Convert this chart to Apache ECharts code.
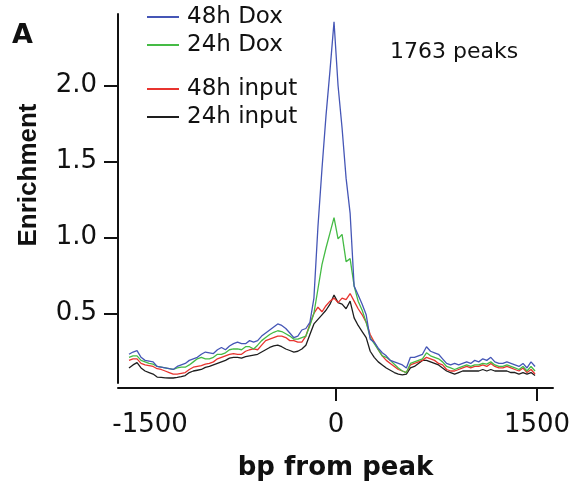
<!DOCTYPE html>
<html><head><meta charset="utf-8">
<script src="https://cdn.jsdelivr.net/npm/echarts@6/dist/echarts.min.js"></script>
<style>html,body{margin:0;padding:0;background:#fff}#c{width:581px;height:486px}</style>
</head><body><div id="c"></div>
<script>
// x positions (bp from peak)
const bpFromPeak = [
  -1545,-1515,-1485,-1455,-1425,-1395,-1365,-1335,-1305,-1275,
  -1245,-1215,-1185,-1155,-1125,-1095,-1065,-1035,-1005,-975,
  -945,-915,-885,-855,-825,-795,-765,-735,-705,-675,
  -645,-615,-585,-555,-525,-495,-465,-435,-405,-375,
  -345,-315,-285,-255,-225,-195,-165,-135,-105,-75,
  -45,-15,15,45,75,105,135,165,195,225,
  255,285,315,345,375,405,435,465,495,525,
  555,585,615,645,675,705,735,765,795,825,
  855,885,915,945,975,1005,1035,1065,1095,1125,
  1155,1185,1215,1245,1275,1305,1335,1365,1395,1425,
  1455,1485
];
const dox48 = [
  0.23,0.245,0.254,0.21,0.19,0.185,0.18,0.15,0.145,0.14,
  0.135,0.13,0.15,0.16,0.17,0.19,0.20,0.21,0.23,0.245,
  0.24,0.235,0.26,0.275,0.26,0.285,0.30,0.31,0.30,0.30,
  0.32,0.31,0.32,0.35,0.37,0.39,0.41,0.43,0.42,0.40,
  0.37,0.34,0.35,0.39,0.40,0.44,0.60,1.07,1.45,1.80,
  2.10,2.42,2.00,1.72,1.39,1.16,0.68,0.62,0.56,0.49,
  0.33,0.31,0.27,0.24,0.22,0.19,0.18,0.17,0.16,0.14,
  0.21,0.21,0.22,0.23,0.28,0.25,0.24,0.23,0.20,0.17,
  0.16,0.17,0.16,0.17,0.18,0.17,0.19,0.18,0.20,0.19,
  0.21,0.18,0.17,0.17,0.18,0.17,0.16,0.15,0.17,0.14,
  0.18,0.15
];
const dox24 = [
  0.21,0.22,0.22,0.19,0.18,0.17,0.165,0.15,0.145,0.14,
  0.135,0.13,0.14,0.145,0.145,0.16,0.18,0.20,0.21,0.20,
  0.20,0.21,0.23,0.23,0.24,0.26,0.265,0.265,0.26,0.28,
  0.28,0.265,0.29,0.32,0.34,0.36,0.375,0.385,0.38,0.365,
  0.35,0.33,0.33,0.34,0.35,0.42,0.50,0.66,0.82,0.93,
  1.03,1.13,0.99,1.02,0.84,0.86,0.68,0.58,0.52,0.44,
  0.34,0.30,0.26,0.22,0.21,0.19,0.165,0.14,0.12,0.11,
  0.17,0.18,0.19,0.20,0.24,0.22,0.21,0.20,0.18,0.15,
  0.14,0.13,0.14,0.15,0.16,0.15,0.16,0.16,0.17,0.165,
  0.18,0.16,0.15,0.15,0.16,0.15,0.14,0.13,0.15,0.12,
  0.15,0.12
];
const input48 = [
  0.19,0.20,0.20,0.17,0.16,0.155,0.15,0.135,0.13,0.12,
  0.11,0.10,0.10,0.105,0.11,0.13,0.145,0.15,0.155,0.165,
  0.17,0.18,0.20,0.21,0.22,0.23,0.235,0.23,0.23,0.25,
  0.26,0.265,0.26,0.29,0.32,0.33,0.34,0.35,0.35,0.34,
  0.32,0.32,0.31,0.31,0.35,0.43,0.50,0.54,0.51,0.55,
  0.58,0.60,0.57,0.60,0.59,0.63,0.58,0.53,0.49,0.44,
  0.36,0.31,0.26,0.22,0.19,0.17,0.15,0.13,0.12,0.11,
  0.16,0.17,0.18,0.19,0.21,0.20,0.19,0.17,0.16,0.13,
  0.12,0.12,0.13,0.14,0.15,0.14,0.15,0.15,0.16,0.15,
  0.17,0.15,0.14,0.14,0.15,0.14,0.13,0.12,0.14,0.11,
  0.13,0.10
];
const input24 = [
  0.14,0.16,0.175,0.14,0.12,0.11,0.10,0.08,0.078,0.075,
  0.074,0.074,0.078,0.083,0.09,0.11,0.12,0.125,0.13,0.144,
  0.15,0.16,0.17,0.18,0.19,0.205,0.21,0.21,0.205,0.215,
  0.22,0.225,0.23,0.245,0.26,0.275,0.285,0.29,0.28,0.265,
  0.255,0.245,0.25,0.265,0.29,0.36,0.43,0.46,0.49,0.52,
  0.56,0.62,0.57,0.56,0.53,0.58,0.47,0.42,0.38,0.34,
  0.25,0.21,0.18,0.16,0.14,0.125,0.11,0.10,0.095,0.10,
  0.14,0.15,0.17,0.19,0.19,0.18,0.17,0.16,0.14,0.12,
  0.11,0.10,0.11,0.12,0.12,0.12,0.12,0.12,0.13,0.12,
  0.13,0.12,0.12,0.12,0.12,0.11,0.11,0.10,0.11,0.10,
  0.11,0.09
];
const seriesNames = ['48h Dox','24h Dox','48h input','24h input'];
const xTickLabels = [-1500, 0, 1500];
const xTickMarks = [0, 1500];
const yTickLabels = [0.5, 1.0, 1.5, 2.0];
const panelLabel = 'A';
const peakNote = '1763 peaks';

const colors = {'48h Dox':'#4556b6','24h Dox':'#45bb45','48h input':'#e8342f','24h input':'#1e1e1e'};
const valuesByName = {'48h Dox':dox48,'24h Dox':dox24,'48h input':input48,'24h input':input24};
const drawOrder = ['24h input','48h input','24h Dox','48h Dox'];
const pairs = arr => bpFromPeak.map((x,i)=>[x,arr[i]]);

const txt = '#111';
const legendBase = {
  orient:'vertical', left:147, padding:0, itemWidth:32, itemHeight:2, itemGap:5, icon:'rect',
  textStyle:{fontFamily:'DejaVu Sans', fontSize:23, color:txt, padding:[0,0,0,3]},
  selectedMode:false
};

const chart = echarts.init(document.getElementById('c'), null, {renderer:'canvas'});
chart.setOption({
  animation:false,
  backgroundColor:'#fff',
  grid:{left:118, right:28, top:14, bottom:101, containLabel:false},
  legend:[
    Object.assign({}, legendBase, {top:5.5, data:seriesNames.slice(0,2)}),
    Object.assign({}, legendBase, {top:77.5, data:seriesNames.slice(2,4)})
  ],
  xAxis:{
    type:'value', min:-1627, max:1619, offset:5,
    axisLine:{show:true, onZero:false, lineStyle:{color:'#111', width:2}},
    axisTick:{show:true, inside:false, length:13, customValues:xTickMarks, lineStyle:{color:'#111', width:2}},
    axisLabel:{customValues:xTickLabels, margin:24, fontFamily:'DejaVu Sans', fontSize:26, color:txt,
      formatter:v => v === xTickLabels[0] ? '{n|' + v + '}' : String(v),
      rich:{n:{fontFamily:'DejaVu Sans', fontSize:26, color:txt, padding:[0,0,0,30]}}},
    splitLine:{show:false},
    name:'bp from peak', nameLocation:'middle', nameGap:67,
    nameTextStyle:{fontFamily:'DejaVu Sans', fontWeight:'bold', fontSize:26, color:txt}
  },
  yAxis:{
    type:'value', min:0.041, max:2.471,
    axisLine:{show:true, onZero:false, lineStyle:{color:'#111', width:2}},
    axisTick:{show:true, length:14, customValues:yTickLabels, lineStyle:{color:'#111', width:2}},
    axisLabel:{customValues:yTickLabels, margin:21, fontFamily:'DejaVu Sans', fontSize:26, color:txt,
      formatter:v => v.toFixed(1)},
    splitLine:{show:false},
    name:'Enrichment', nameLocation:'middle', nameGap:76, nameRotate:90,
    nameTextStyle:{fontFamily:'Liberation Sans', fontWeight:'bold', fontSize:26, color:txt, padding:[0,0,0,47]}
  },
  series: drawOrder.map(n => ({
    name:n, type:'line', data:pairs(valuesByName[n]), showSymbol:false, symbol:'none',
    lineStyle:{color:colors[n], width:1.3}, itemStyle:{color:colors[n]}, z:2
  })),
  graphic:[
    {type:'text', x:12, y:36, style:{text:panelLabel, font:'bold 27px "DejaVu Sans"', fill:txt, verticalAlign:'middle'}},
    {type:'text', x:390, y:52, style:{text:peakNote, font:'22px "DejaVu Sans"', fill:txt, verticalAlign:'middle'}}
  ]
});
</script></body></html>
